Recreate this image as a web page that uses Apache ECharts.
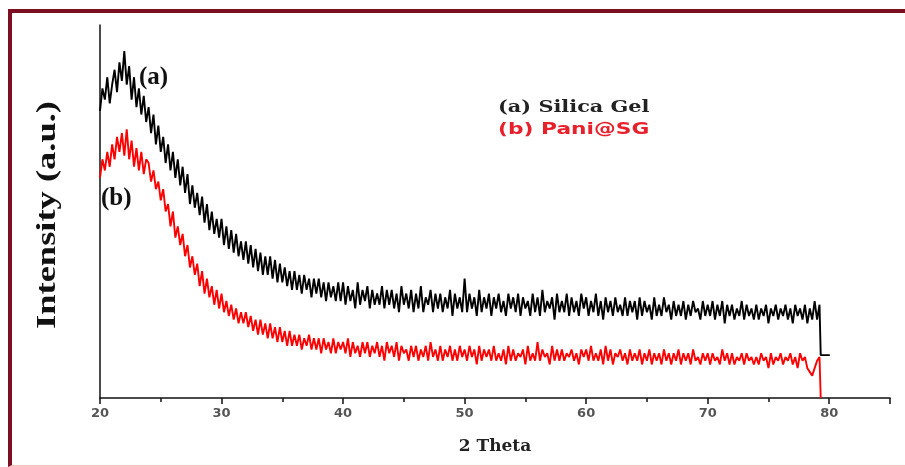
<!DOCTYPE html>
<html>
<head>
<meta charset="utf-8">
<script src="https://cdn.jsdelivr.net/npm/echarts@6/dist/echarts.min.js"></script>
<style>
  html, body { margin: 0; padding: 0; background: #fff; }
  #wrap { position: relative; width: 905px; height: 467px; overflow: hidden; }
  #xrd { position: absolute; left: 0; top: 0; width: 905px; height: 467px; }
  #frame {
    position: absolute; left: 8px; top: 9px; width: 910px; height: 452px;
    border-left: 4px solid #7e0f22; border-top: 4px solid #7e0f22;
    border-bottom: 2px solid #f7c4c4; pointer-events: none;
  }
</style>
</head>
<body>
<div id="wrap">
  <div id="xrd"></div>
  <div id="frame"></div>
</div>
<script>
// scan grid (2 theta, degrees)
const startAngle = 20
const stepAngle = 0.2

// (a) Silica Gel, every 0.2 deg from 20 to 79.2
const silicaGel = [
  77, 83, 80, 86, 79, 84, 88, 82, 90, 85,
  93, 84, 89, 80, 86, 78, 83, 76, 81, 74,
  78, 71, 76, 68, 73, 66, 70, 63, 68, 61,
  66, 59, 64, 57, 62, 55, 60, 52, 57, 51,
  55, 49, 54, 47, 52, 45, 50, 44, 48, 43,
  48, 41, 46, 40, 45, 39, 44, 38, 42, 37,
  42, 36, 41, 35, 40, 34, 39, 33, 38, 33,
  38, 32, 37, 31, 36, 31, 35, 30, 34, 29,
  34, 29, 33, 28, 33, 29, 32, 27, 32, 28,
  32, 27, 31, 26, 31, 27, 30, 26, 31, 26,
  31, 25, 30, 26, 29, 24, 31, 25, 29, 26,
  30, 24, 29, 25, 28, 25, 30, 24, 29, 25,
  29, 24, 28, 23, 30, 25, 28, 24, 29, 23,
  28, 24, 30, 23, 27, 25, 29, 23, 28, 24,
  28, 23, 27, 24, 29, 22, 28, 24, 27, 23,
  32, 23, 28, 24, 27, 22, 29, 23, 27, 24,
  28, 22, 27, 24, 28, 23, 26, 22, 28, 24,
  27, 23, 28, 22, 27, 24, 26, 22, 28, 23,
  27, 22, 29, 23, 26, 24, 27, 21, 28, 23,
  26, 23, 28, 22, 27, 23, 26, 22, 28, 24,
  27, 22, 26, 23, 28, 22, 26, 21, 27, 23,
  26, 22, 27, 23, 25, 22, 27, 22, 26, 23,
  26, 21, 27, 22, 26, 23, 25, 21, 27, 22,
  25, 22, 27, 23, 25, 21, 26, 22, 25, 22,
  26, 21, 25, 22, 26, 23, 24, 21, 26, 22,
  25, 22, 26, 21, 25, 22, 26, 20, 25, 22,
  25, 21, 24, 22, 26, 21, 25, 22, 24, 21,
  25, 21, 24, 22, 25, 20, 24, 22, 25, 21,
  24, 22, 25, 21, 24, 20, 25, 22, 24, 21,
  25, 20, 24, 21, 26, 21, 25
]

// (b) Pani@SG, same grid
const paniSG = [
  59, 64, 61, 66, 62, 68, 64, 70, 66, 71,
  65, 72, 64, 69, 62, 67, 61, 66, 60, 64,
  63, 58, 61, 56, 58, 53, 56, 50, 52, 46,
  50, 43, 46, 41, 44, 38, 41, 35, 38, 33,
  36, 30, 34, 28, 32, 27, 30, 25, 29, 24,
  28, 23, 26, 22, 25, 21, 24, 20, 23, 20,
  23, 19, 22, 18, 21, 17, 21, 17, 20, 16,
  20, 16, 19, 15, 19, 15, 18, 14, 18, 14,
  17, 14, 17, 13, 16, 14, 17, 13, 16, 13,
  16, 12, 16, 13, 15, 12, 16, 12, 15, 13,
  15, 12, 16, 11, 15, 12, 14, 11, 15, 12,
  15, 11, 14, 12, 15, 11, 14, 10, 15, 12,
  14, 11, 15, 10, 14, 12, 13, 10, 14, 11,
  14, 10, 13, 11, 14, 10, 15, 11, 13, 10,
  14, 10, 13, 11, 14, 10, 13, 10, 14, 11,
  13, 10, 14, 11, 13, 9, 14, 10, 13, 11,
  13, 10, 14, 10, 12, 10, 13, 9, 14, 10,
  13, 10, 12, 11, 13, 9, 14, 10, 12, 10,
  15, 10, 13, 11, 12, 9, 14, 10, 13, 10,
  13, 10, 12, 11, 13, 10, 12, 9, 13, 11,
  13, 10, 14, 10, 12, 10, 13, 9, 14, 10,
  13, 9, 12, 11, 13, 10, 12, 9, 13, 10,
  12, 10, 13, 9, 12, 10, 13, 9, 12, 10,
  12, 9, 13, 10, 12, 9, 12, 10, 13, 9,
  12, 10, 12, 9, 13, 10, 11, 9, 12, 10,
  12, 9, 12, 10, 11, 9, 13, 10, 12, 9,
  12, 9, 11, 10, 12, 9, 12, 10, 11, 9,
  11, 9, 12, 10, 11, 8, 12, 9, 11, 10,
  12, 9, 11, 10, 12, 9, 11, 8, 12, 10,
  11, 8, 7, 6, 8, 10, 11
]

// end of the scan: the plotting program drops each trace to the next level
const silicaGelTail = [[79.3, 11.5], [80.05, 11.5]]
const paniTail = [[79.3, 11], [79.3, 0]]

const xTicks = ['20', '30', '40', '50', '60', '70', '80']

function toPoints(values, tail) {
  const pts = values.map((v, i) => [+(startAngle + i * stepAngle).toFixed(2), v])
  return pts.concat(tail)
}

const chart = echarts.init(document.getElementById('xrd'))
chart.setOption({
  animation: false,
  grid: { left: 100, right: 15, top: 25, bottom: 69 },
  xAxis: {
    type: 'value',
    min: 20,
    max: 85,
    interval: 10,
    name: '2 Theta',
    nameLocation: 'middle',
    nameGap: 40,
    nameTextStyle: { fontFamily: 'DejaVu Serif', fontWeight: 'bold', fontSize: 17, color: '#222' },
    axisLine: { lineStyle: { color: '#111', width: 1.5 } },
    axisTick: { show: true, inside: false, length: 6, lineStyle: { color: '#111', width: 1.5 } },
    minorTick: { show: true, splitNumber: 2, length: 4, lineStyle: { color: '#111', width: 1.5 } },
    splitLine: { show: false },
    axisLabel: {
      margin: 9,
      fontFamily: 'DejaVu Sans',
      fontWeight: 'bold',
      fontSize: 13,
      color: '#555',
      formatter: v => (xTicks.includes(String(v)) ? String(v) : '')
    }
  },
  yAxis: {
    type: 'value',
    min: 0,
    max: 100,
    axisLine: { show: true, lineStyle: { color: '#111', width: 1.5 } },
    axisTick: { show: false },
    axisLabel: { show: false },
    splitLine: { show: false }
  },
  series: [
    {
      name: '(a) Silica Gel',
      type: 'line',
      showSymbol: false,
      lineStyle: { color: '#000', width: 1.9 },
      data: toPoints(silicaGel, silicaGelTail)
    },
    {
      name: '(b) Pani@SG',
      type: 'line',
      showSymbol: false,
      lineStyle: { color: '#f00', width: 1.9 },
      data: toPoints(paniSG, paniTail)
    }
  ],
  graphic: [
    {
      type: 'text', x: 48, y: 215, rotation: Math.PI / 2, scaleX: 1.35,
      style: {
        text: 'Intensity (a.u.)', fill: '#111',
        font: 'bold 27px "Liberation Serif"', textAlign: 'center', textVerticalAlign: 'middle'
      }
    },
    {
      type: 'text', x: 139, y: 78,
      style: { text: '(a)', fill: '#111', font: 'bold 25px "Liberation Serif"', textVerticalAlign: 'middle' }
    },
    {
      type: 'text', x: 101, y: 199,
      style: { text: '(b)', fill: '#111', font: 'bold 25px "Liberation Serif"', textVerticalAlign: 'middle' }
    },
    {
      type: 'text', x: 498, y: 108, scaleX: 1.3,
      style: { text: '(a) Silica Gel', fill: '#222', font: 'bold 16px "DejaVu Serif"', textVerticalAlign: 'middle' }
    },
    {
      type: 'text', x: 498, y: 130, scaleX: 1.45,
      style: { text: '(b) Pani@SG', fill: '#e8202c', font: 'bold 15px "DejaVu Sans"', textVerticalAlign: 'middle' }
    }
  ]
})
</script>
</body>
</html>
